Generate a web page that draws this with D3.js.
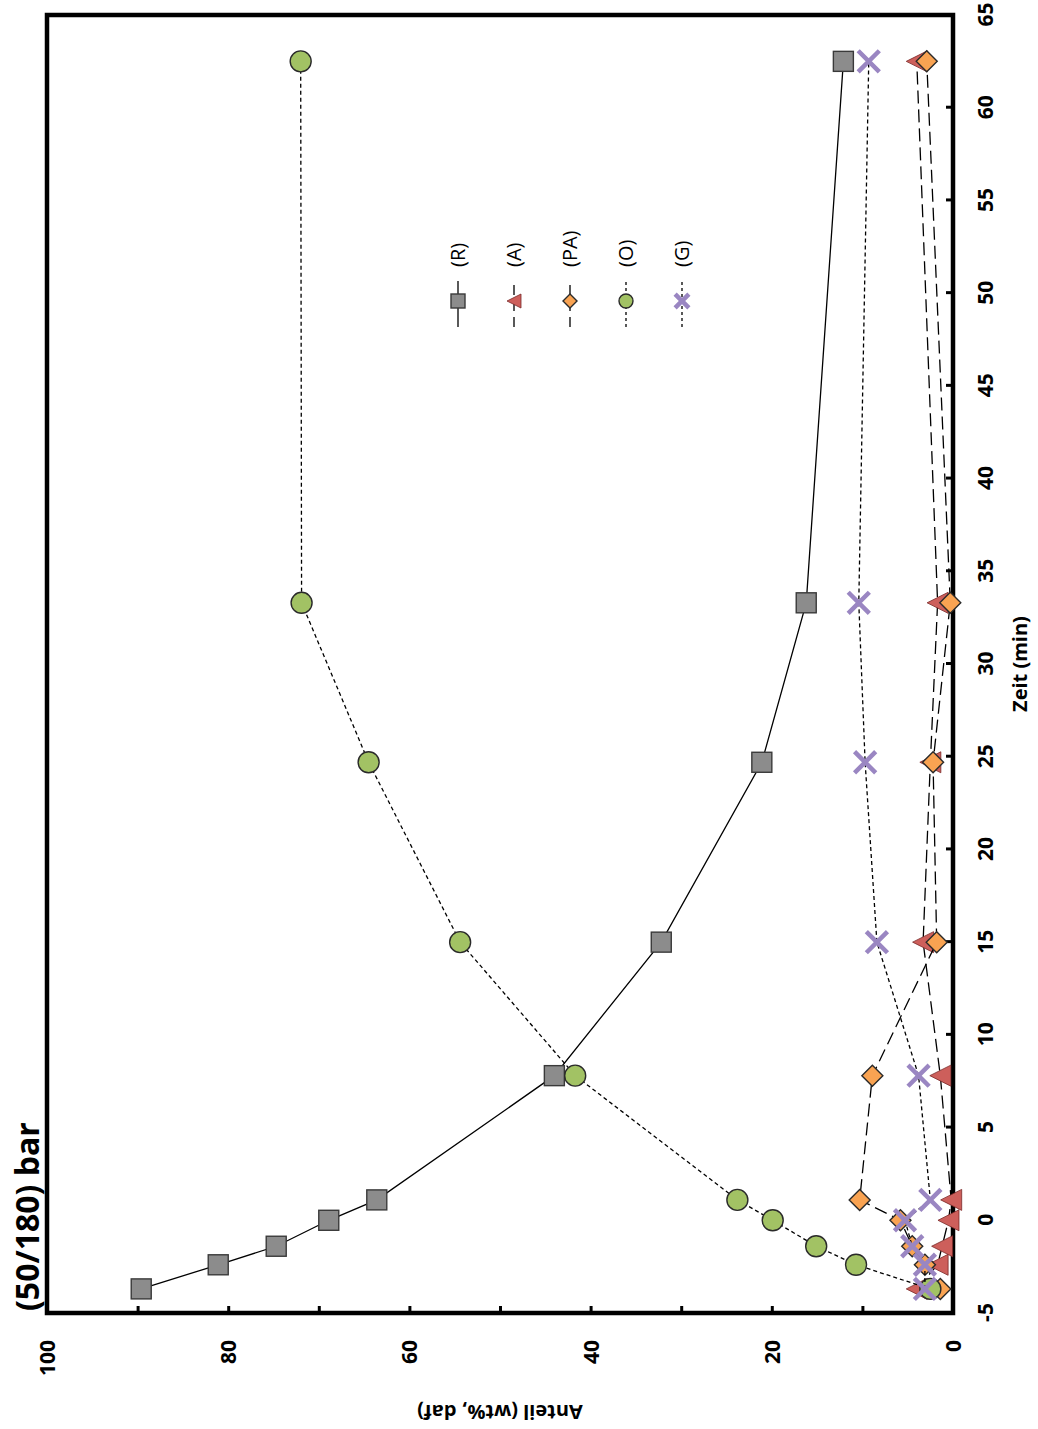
<!DOCTYPE html>
<html>
<head>
<meta charset="utf-8">
<script src="https://cdn.jsdelivr.net/npm/d3@7"></script>
<style>
  html, body { margin: 0; padding: 0; background: #fff; }
  svg { display: block; }
  text { font-family: "Open Sans", "Noto Sans", sans-serif; fill: #000; }
</style>
</head>
<body>
<script>
// Time points (min) and mass fractions (wt%, daf) per product
const zeit = [-3.7, -2.4, -1.4, 0, 1.1, 7.8, 15.0, 24.7, 33.3, 62.5];
const seriesR  = [89.6, 81.1, 74.7, 68.9, 63.6, 44.0, 32.2, 21.1, 16.2, 12.1];
const seriesA  = [4.0, 1.7, 1.2, 0.5, 0.2, 1.4, 3.3, 2.5, 1.7, 4.0];
const seriesPA = [1.4, 3.1, 4.5, 5.8, 10.3, 8.9, 1.8, 2.2, 0.3, 2.9];
const seriesO  = [2.5, 10.7, 15.1, 19.9, 23.8, 41.7, 54.4, 64.5, 71.9, 72.0];
const seriesG  = [3.1, 3.1, 4.5, 5.3, 2.5, 3.8, 8.4, 9.7, 10.4, 9.3];
const seriesNames = ["(R)", "(A)", "(PA)", "(O)", "(G)"];

const xTicks = [-5, 0, 5, 10, 15, 20, 25, 30, 35, 40, 45, 50, 55, 60, 65];
const yTicks = [0, 10, 20, 30, 40, 50, 60, 70, 80, 90, 100];
const yLabels = [0, 20, 40, 60, 80, 100];

const title = "(50/180) bar";
const xTitle = "Zeit (min)";
const yTitle = "Anteil (wt%, daf)";

// The chart is laid out in landscape and turned a quarter turn onto the portrait page
const PAGE_W = 1038, PAGE_H = 1429;
const plot = { left: 116, right: 1414, top: 47, bottom: 953 };

const svg = d3.select("body").append("svg")
  .attr("width", PAGE_W).attr("height", PAGE_H);
const g = svg.append("g").attr("transform", `translate(0,${PAGE_H}) rotate(-90)`);

const x = d3.scaleLinear().domain([-5, 65]).range([plot.left, plot.right]);
const y = d3.scaleLinear().domain([0, 100]).range([plot.bottom, plot.top]);

// Axes with inward ticks
const xAxis = g.append("g").attr("transform", `translate(0,${plot.bottom})`)
  .call(d3.axisBottom(x).tickValues(xTicks).tickSize(-7).tickFormat(d => String(d)));
xAxis.select(".domain").remove();
xAxis.selectAll(".tick line").attr("stroke", "#000").attr("stroke-width", 3);
xAxis.selectAll("text").attr("y", 32).attr("dy", "0.36em")
  .style("font-size", "21px").style("font-weight", "700")
  .style("font-family", "'Open Sans', sans-serif");

const yAxis = g.append("g").attr("transform", `translate(${plot.left},0)`)
  .call(d3.axisLeft(y).tickValues(yTicks).tickSize(-7)
    .tickFormat(d => yLabels.includes(d) ? String(d) : ""));
yAxis.select(".domain").remove();
yAxis.selectAll(".tick line").attr("stroke", "#000").attr("stroke-width", 3);
yAxis.selectAll("text").attr("x", -27).attr("dy", "0.36em").attr("text-anchor", "end")
  .style("font-size", "21px").style("font-weight", "700")
  .style("font-family", "'Open Sans', sans-serif");

// Plot frame
g.append("rect")
  .attr("x", plot.left).attr("y", plot.top)
  .attr("width", plot.right - plot.left).attr("height", plot.bottom - plot.top)
  .attr("fill", "none").attr("stroke", "#000").attr("stroke-width", 4.5);

// Marker shapes
function drawMarker(sel, kind, s, fill) {
  const h = s / 2;
  if (kind === "square") {
    sel.append("rect").attr("x", -h).attr("y", -h).attr("width", s).attr("height", s)
      .attr("fill", fill).attr("stroke", "#3a3a3a").attr("stroke-width", 1.4);
  } else if (kind === "triangle") {
    sel.append("path").attr("d", `M0,${-h}L${h},${h}L${-h},${h}Z`)
      .attr("fill", fill).attr("stroke", "#7a2a28").attr("stroke-width", 0.8);
  } else if (kind === "diamond") {
    sel.append("path").attr("d", `M0,${-h}L${h},0L0,${h}L${-h},0Z`)
      .attr("fill", fill).attr("stroke", "#2a2a2a").attr("stroke-width", 1.4);
  } else if (kind === "circle") {
    sel.append("circle").attr("r", h)
      .attr("fill", fill).attr("stroke", "#2a2a2a").attr("stroke-width", 1.4);
  } else if (kind === "cross") {
    const k = h * 0.92;
    sel.append("path").attr("d", `M${-k},${-k}L${k},${k}M${-k},${k}L${k},${-k}`)
      .attr("fill", "none").attr("stroke", fill).attr("stroke-width", 4.5);
  }
}

const series = [
  { name: seriesNames[0], values: seriesR,  kind: "square",   fill: "#8c8c8c", dash: null,   size: 20 },
  { name: seriesNames[1], values: seriesA,  kind: "triangle", fill: "#cd5f5b", dash: "13,6", size: 21 },
  { name: seriesNames[2], values: seriesPA, kind: "diamond",  fill: "#f9a352", dash: "13,6", size: 21 },
  { name: seriesNames[3], values: seriesO,  kind: "circle",   fill: "#a2c264", dash: "4,3",  size: 21 },
  { name: seriesNames[4], values: seriesG,  kind: "cross",    fill: "#9a86c2", dash: "4,3",  size: 23 }
];

const line = d3.line().x(d => x(d.t)).y(d => y(d.v));

series.forEach(s => {
  const pts = zeit.map((t, i) => ({ t, v: s.values[i] }));
  g.append("path").datum(pts)
    .attr("d", line).attr("fill", "none").attr("stroke", "#000")
    .attr("stroke-width", 1.3)
    .attr("stroke-dasharray", s.dash);
  g.append("g").selectAll("g").data(pts).join("g")
    .attr("transform", d => `translate(${x(d.t)},${y(d.v)})`)
    .each(function () { drawMarker(d3.select(this), s.kind, s.size, s.fill); });
});

// Legend
const legend = g.append("g").attr("transform", "translate(1102,458)");
series.forEach((s, i) => {
  const row = legend.append("g").attr("transform", `translate(0,${i * 56})`);
  row.append("line").attr("x1", 0).attr("x2", 46).attr("y1", 0).attr("y2", 0)
    .attr("stroke", "#000").attr("stroke-width", 1.3)
    .attr("stroke-dasharray", s.dash ? (s.dash === "13,6" ? "10,6" : "3,3") : null);
  const m = row.append("g").attr("transform", "translate(26,0)");
  drawMarker(m, s.kind, s.kind === "cross" ? 15 : 14, s.fill);
  row.append("text").attr("x", 60).attr("y", 0).attr("dy", "0.36em")
    .style("font-size", "20px").text(s.name);
});

// Titles
g.append("text").attr("x", 118).attr("y", 39)
  .style("font-size", "32px").style("font-weight", "700").text(title);

g.append("text").attr("x", (plot.left + plot.right) / 2).attr("y", 1020)
  .attr("dy", "0.36em").attr("text-anchor", "middle")
  .style("font-size", "20px").style("font-weight", "700").text(xTitle);

g.append("text")
  .attr("transform", `translate(17,${(plot.top + plot.bottom) / 2}) rotate(-90)`)
  .attr("dy", "0.36em").attr("text-anchor", "middle")
  .style("font-size", "20px").style("font-weight", "700").text(yTitle);
</script>
</body>
</html>
